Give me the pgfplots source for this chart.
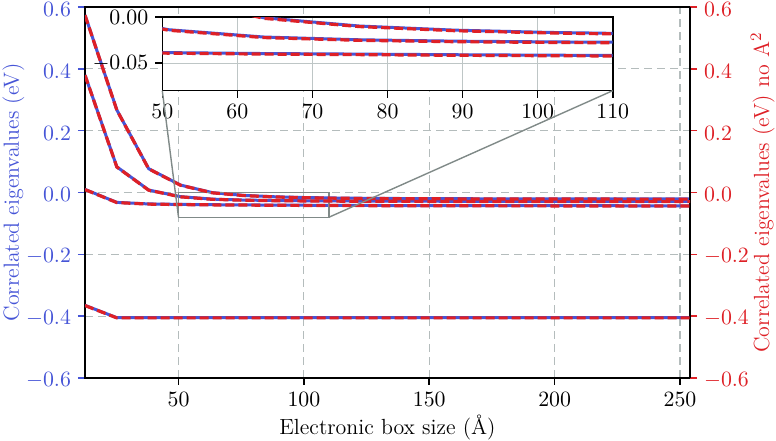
\documentclass[border=0pt]{standalone}
\usepackage{pgfplots}
\pgfplotsset{compat=1.18}
\usepackage{pgfplotstable}

\definecolor{myblue}{RGB}{70,85,215}
\definecolor{myred}{RGB}{222,32,38}
\definecolor{gridgray}{RGB}{180,188,188}
\definecolor{insetgray}{RGB}{190,198,198}
\definecolor{rectgray}{RGB}{128,138,136}

% box size (Angstrom), correlated eigenvalues (eV): a-d with A^2, ar-dr without
\pgfplotstableread{
x      a        b        c        d        ar       br       cr       dr
12.7   0.574    0.380    0.010   -0.365    0.5734   0.3794   0.0094  -0.3656
25.4   0.267    0.083   -0.032   -0.405    0.2664   0.0824  -0.0326  -0.4056
38.1   0.077    0.008   -0.037   -0.405    0.0764   0.0074  -0.0376  -0.4056
50.8   0.024   -0.0135  -0.0385  -0.405    0.0234  -0.0141  -0.0391  -0.4056
63.5  -0.0005  -0.0215  -0.0395  -0.405   -0.0011  -0.0221  -0.0401  -0.4056
76.2  -0.0095  -0.0245  -0.0401  -0.405   -0.0101  -0.0251  -0.0407  -0.4056
88.9  -0.0140  -0.0260  -0.0408  -0.405   -0.0146  -0.0266  -0.0414  -0.4056
101.6 -0.0165  -0.0268  -0.0413  -0.405   -0.0171  -0.0274  -0.0419  -0.4056
114.3 -0.0180  -0.0274  -0.0417  -0.405   -0.0186  -0.0280  -0.0423  -0.4056
127.0 -0.0189  -0.0278  -0.0420  -0.405   -0.0195  -0.0284  -0.0426  -0.4056
139.7 -0.0195  -0.0281  -0.0422  -0.405   -0.0201  -0.0287  -0.0428  -0.4056
152.4 -0.0199  -0.0283  -0.0424  -0.405   -0.0205  -0.0289  -0.0430  -0.4056
165.1 -0.0202  -0.0285  -0.0425  -0.405   -0.0208  -0.0291  -0.0431  -0.4056
177.8 -0.0204  -0.0286  -0.0426  -0.405   -0.0210  -0.0292  -0.0432  -0.4056
190.5 -0.0205  -0.0287  -0.0427  -0.405   -0.0211  -0.0293  -0.0433  -0.4056
203.2 -0.0206  -0.0288  -0.0428  -0.405   -0.0212  -0.0294  -0.0434  -0.4056
215.9 -0.0207  -0.0288  -0.0428  -0.405   -0.0213  -0.0294  -0.0434  -0.4056
228.6 -0.0208  -0.0289  -0.0429  -0.405   -0.0214  -0.0295  -0.0435  -0.4056
241.3 -0.0208  -0.0289  -0.0429  -0.405   -0.0214  -0.0295  -0.0435  -0.4056
254.0 -0.0209  -0.0289  -0.0429  -0.405   -0.0215  -0.0295  -0.0435  -0.4056
}\eig

\pgfplotsset{
  blueline/.style={myblue, line width=1.5bp},
  redline/.style={myred, line width=1.6bp, dash pattern=on 4.5bp off 2bp},
  every axis/.append style={
    tick label style={font=\fontsize{10.5}{12.5}\selectfont},
    label style={font=\fontsize{11}{13}\selectfont},
  },
}

\begin{document}
\begin{tikzpicture}
\path[use as bounding box] (-42.5bp,-31.5bp) rectangle (345.5bp,189bp);

% main axis, left scale
\begin{axis}[
  at={(0,0)}, anchor=south west,
  scale only axis, width=302.5bp, height=185.5bp,
  xmin=12.7, xmax=254, ymin=-0.6, ymax=0.6,
  xtick={50,100,150,200,250},
  ytick={-0.6,-0.4,-0.2,0,0.2,0.4,0.6},
  xtick pos=bottom, ytick pos=left,
  tick align=outside, major tick length=3.5bp,
  x tick style={black, line width=0.8bp},
  y tick style={myblue, line width=0.8bp},
  yticklabel style={text=myblue, yshift=-1.2bp, /pgf/number format/fixed,
    /pgf/number format/fixed zerofill, /pgf/number format/precision=1},
  axis line style={line width=0.8bp},
  grid=major,
  grid style={gridgray, line width=0.6bp, dash pattern=on 4bp off 2.5bp},
  xlabel={Electronic box size ({\AA})},
  xlabel style={at={(axis description cs:0.5,-0.1536)}, anchor=base},
  ylabel={Correlated eigenvalues (eV)},
  ylabel style={at={(axis description cs:-0.1372,0.5)}, anchor=north,
    inner sep=0pt, text=myblue},
]
\addplot[blueline] table[x=x, y=a] {\eig};
\addplot[blueline] table[x=x, y=b] {\eig};
\addplot[blueline] table[x=x, y=c] {\eig};
\addplot[blueline] table[x=x, y=d] {\eig};
\draw[rectgray, line width=0.7bp] (axis cs:50,-0.08) rectangle (axis cs:110,0);
\coordinate (rbl) at (axis cs:50,-0.08);
\coordinate (rbr) at (axis cs:110,-0.08);
\end{axis}

% right scale, no A^2
\begin{axis}[
  at={(0,0)}, anchor=south west,
  scale only axis, width=302.5bp, height=185.5bp,
  xmin=12.7, xmax=254, ymin=-0.6, ymax=0.6,
  axis x line=none, axis y line*=right,
  ytick={-0.6,-0.4,-0.2,0,0.2,0.4,0.6},
  tick align=outside, major tick length=3.5bp,
  y tick style={myred, line width=0.8bp},
  yticklabel style={text=myred, yshift=-1.2bp, /pgf/number format/fixed,
    /pgf/number format/fixed zerofill, /pgf/number format/precision=1},
  axis line style={black, line width=0.8bp},
  ylabel={Correlated eigenvalues (eV) no A$^2$},
  ylabel style={at={(axis description cs:1.1405,0.5)}, anchor=south,
    inner sep=0pt, text=myred},
]
\addplot[redline] table[x=x, y=ar] {\eig};
\addplot[redline] table[x=x, y=br] {\eig};
\addplot[redline] table[x=x, y=cr] {\eig};
\addplot[redline] table[x=x, y=dr] {\eig};
\end{axis}

% inset
\begin{axis}[
  at={(38.65bp,143.65bp)}, anchor=south west,
  scale only axis, width=225.2bp, height=36.7bp,
  xmin=50, xmax=110, ymin=-0.08, ymax=0,
  xtick={50,60,70,80,90,100,110},
  ytick={-0.05,0},
  scaled y ticks=false,
  xtick pos=bottom, ytick pos=left,
  tick align=outside, major tick length=3.5bp,
  tick style={black, line width=0.8bp},
  yticklabel style={/pgf/number format/fixed,
    /pgf/number format/fixed zerofill, /pgf/number format/precision=2},
  axis line style={line width=0.8bp},
  axis background/.style={fill=white},
  grid=major,
  grid style={insetgray, line width=0.6bp},
]
\addplot[blueline] table[x=x, y=a] {\eig};
\addplot[blueline] table[x=x, y=b] {\eig};
\addplot[blueline] table[x=x, y=c] {\eig};
\addplot[redline] table[x=x, y=ar] {\eig};
\addplot[redline] table[x=x, y=br] {\eig};
\addplot[redline] table[x=x, y=cr] {\eig};
\coordinate (ibl) at (rel axis cs:0,0);
\coordinate (ibr) at (rel axis cs:1,0);
\end{axis}

\draw[rectgray, line width=0.7bp] (rbl) -- (ibl) (rbr) -- (ibr);
\end{tikzpicture}
\end{document}
